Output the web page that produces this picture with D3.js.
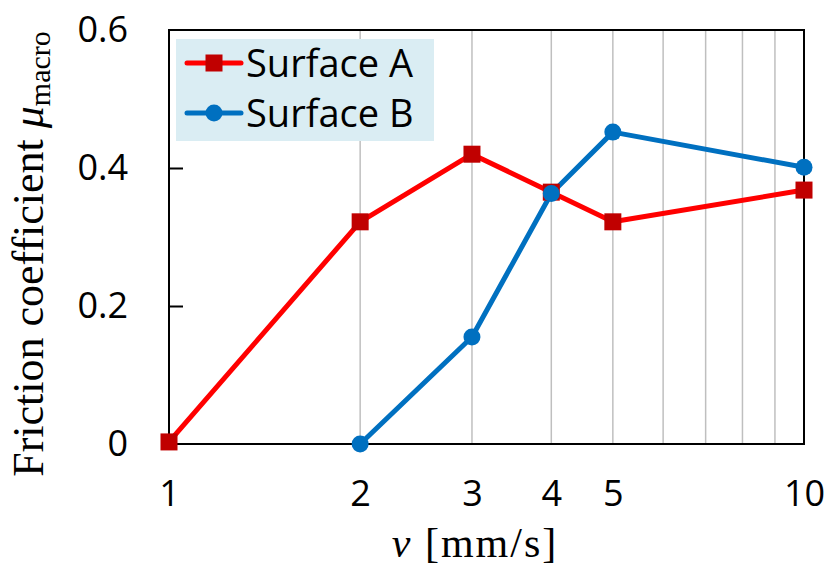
<!DOCTYPE html>
<html>
<head>
<meta charset="utf-8">
<script src="https://cdn.jsdelivr.net/npm/d3@7"></script>
<style>
  body { margin: 0; background: #fff; }
  svg { display: block; }
</style>
</head>
<body>
<div id="chart"></div>
<script>
var WIDTH = 829;
var HEIGHT = 566;
var margin = { top: 30, right: 25, bottom: 122, left: 169 };

var speedA = [1, 2, 3, 4, 5, 10];
var frictionA = [0.003, 0.322, 0.420, 0.365, 0.322, 0.368];
var speedB = [2, 3, 4, 5, 10];
var frictionB = [0.0, 0.155, 0.363, 0.452, 0.401];
var xTicks = [1, 2, 3, 4, 5, 10];
var yTicks = [0, 0.2, 0.4, 0.6];
var gridValues = [2, 3, 4, 5, 6, 7, 8, 9];
var seriesNames = ["Surface A", "Surface B"];

var plotW = WIDTH - margin.left - margin.right;
var plotH = HEIGHT - margin.top - margin.bottom;
var labelFont = "'Open Sans', 'Noto Sans', sans-serif";
var titleFont = "'Liberation Serif', 'DejaVu Serif', serif";

var svg = d3.select("#chart").append("svg")
  .attr("width", WIDTH)
  .attr("height", HEIGHT);

var g = svg.append("g")
  .attr("transform", "translate(" + margin.left + "," + margin.top + ")");

var x = d3.scaleLog().domain([1, 10]).range([0, plotW]);
var y = d3.scaleLinear().domain([0, 0.6]).range([plotH, 0]);

// vertical grid
g.selectAll(".grid")
  .data(gridValues)
  .enter().append("line")
  .attr("x1", d => x(d)).attr("x2", d => x(d))
  .attr("y1", 0).attr("y2", plotH)
  .attr("stroke", "#bfbfbf")
  .attr("stroke-width", 1.5);

// frame
g.append("rect")
  .attr("width", plotW).attr("height", plotH)
  .attr("fill", "none")
  .attr("stroke", "#000")
  .attr("stroke-width", 2);

// y axis: inner ticks
var yAxis = d3.axisLeft(y).tickValues(yTicks).tickSize(-14).tickPadding(41)
  .tickFormat(d => d === 0 ? "0" : d3.format(".1f")(d));
var yg = g.append("g").call(yAxis);
yg.select(".domain").remove();
yg.selectAll(".tick line").attr("stroke", "#000").attr("stroke-width", 2)
  .filter(d => d === 0 || d === 0.6).remove();
yg.selectAll("text")
  .attr("font-family", labelFont)
  .attr("font-size", 36)
  .attr("fill", "#000");

// x axis labels
var xAxis = d3.axisBottom(x).tickValues(xTicks).tickSize(0).tickPadding(36)
  .tickFormat(d3.format("d"));
var xg = g.append("g").attr("transform", "translate(0," + plotH + ")").call(xAxis);
xg.select(".domain").remove();
xg.selectAll("text")
  .attr("font-family", labelFont)
  .attr("font-size", 36)
  .attr("fill", "#000");

var line = d3.line().x(d => x(d[0])).y(d => y(d[1]));

var dataA = speedA.map((s, i) => [s, frictionA[i]]);
var dataB = speedB.map((s, i) => [s, frictionB[i]]);

g.append("path").datum(dataA).attr("d", line)
  .attr("fill", "none").attr("stroke", "#ff0000").attr("stroke-width", 5)
  .attr("stroke-linejoin", "round");
g.append("path").datum(dataB).attr("d", line)
  .attr("fill", "none").attr("stroke", "#0070c0").attr("stroke-width", 5)
  .attr("stroke-linejoin", "round");

g.selectAll(".markA").data(dataA).enter().append("rect")
  .attr("x", d => x(d[0]) - 8.5).attr("y", d => y(d[1]) - 8.5)
  .attr("width", 17).attr("height", 17)
  .attr("fill", "#c00000");
g.selectAll(".markB").data(dataB).enter().append("circle")
  .attr("cx", d => x(d[0])).attr("cy", d => y(d[1]))
  .attr("r", 8.5)
  .attr("fill", "#0070c0");

// legend
var lg = svg.append("g").attr("transform", "translate(176,39)");
lg.append("rect").attr("width", 258).attr("height", 102).attr("fill", "#daedf3");
var legendRows = [
  { name: seriesNames[0], color: "#ff0000", mark: "#c00000", square: true, yy: 24 },
  { name: seriesNames[1], color: "#0070c0", mark: "#0070c0", square: false, yy: 74 }
];
legendRows.forEach(function(r) {
  lg.append("line").attr("x1", 11).attr("x2", 65).attr("y1", r.yy).attr("y2", r.yy)
    .attr("stroke", r.color).attr("stroke-width", 5).attr("stroke-linecap", "round");
  if (r.square) {
    lg.append("rect").attr("x", 29.5).attr("y", r.yy - 8.5).attr("width", 17).attr("height", 17)
      .attr("fill", r.mark);
  } else {
    lg.append("circle").attr("cx", 38).attr("cy", r.yy).attr("r", 8.5).attr("fill", r.mark);
  }
  lg.append("text").attr("x", 70).attr("y", r.yy + 14)
    .attr("font-family", labelFont)
    .attr("font-size", 38)
    .attr("fill", "#000")
    .text(r.name);
});

// axis titles
var xt = svg.append("text")
  .attr("x", 475)
  .attr("y", 557)
  .attr("text-anchor", "middle")
  .attr("font-family", titleFont)
  .attr("font-size", 42)
  .attr("letter-spacing", 2)
  .attr("fill", "#000");
xt.append("tspan").attr("font-style", "italic").text("v");
xt.append("tspan").text(" [mm/s]");

var yt = svg.append("text")
  .attr("transform", "translate(43,254) rotate(-90)")
  .attr("text-anchor", "middle")
  .attr("font-family", titleFont)
  .attr("font-size", 44)
  .attr("fill", "#000");
yt.append("tspan").text("Friction coefficient ");
yt.append("tspan").attr("font-style", "italic").text("μ");
yt.append("tspan").attr("font-size", 30).attr("dy", 7).text("macro");
</script>
</body>
</html>
